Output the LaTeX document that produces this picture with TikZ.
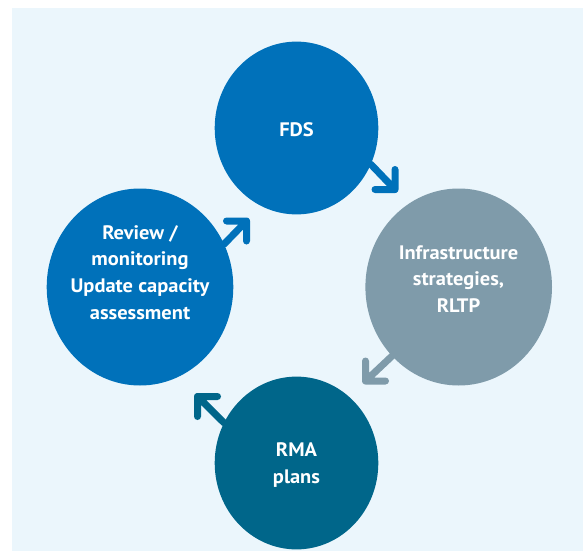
\documentclass[tikz,border=0pt]{standalone}
\usepackage{fontspec}
\setmainfont{PT Sans}[FakeStretch=1.05]
\usetikzlibrary{shapes.geometric}
\definecolor{blueA}{RGB}{0,113,186}
\definecolor{greyB}{RGB}{127,155,170}
\definecolor{tealC}{RGB}{0,102,138}
\definecolor{bgC}{RGB}{235,246,252}
\begin{document}
\begin{tikzpicture}[x=1pt,y=-1pt,
  bigc/.style={ellipse,inner sep=0pt,outer sep=0pt,minimum width=186.6pt,minimum height=197pt},
  smallc/.style={ellipse,inner sep=0pt,outer sep=0pt,minimum width=163.6pt,minimum height=172.8pt},
  lbl/.style={text=white,align=center,inner sep=0pt,font=\fontsize{19.5}{26.7}\selectfont\bfseries},
  arr/.style={line width=7pt,line cap=round,line join=round}]
\useasboundingbox (0,0) rectangle (583,551);
\fill[bgC] (12,8) rectangle (583,551);
% circles (shapes only, text placed separately)
\path (296.5,128) node[smallc] (fds) {};
\path (458.7,287) node[bigc] (infra) {};
\path (296.5,463) node[smallc] (rma) {};
\path (140,287) node[bigc] (rev) {};
% arrow tips
\coordinate (t1) at (395,189.5);
\coordinate (t2) at (365.5,381);
\coordinate (t3) at (197.5,396.5);
\coordinate (t4) at (246.5,221);
% connectors
\draw[arr,blueA] (fds.-26.6) -- (t1) -- ++(0,-20) (t1) -- ++(-20,0);
\draw[arr,greyB] (infra.-134.7) -- (t2) -- ++(0,-20) (t2) -- ++(20,0);
\draw[arr,tealC] (rma.151.3) -- (t3) -- ++(0,20) (t3) -- ++(20,0);
\draw[arr,blueA] (rev.27.4) -- (t4) -- ++(-20,0) (t4) -- ++(0,20);
% fill circles on top
\fill[blueA] (fds.center) ellipse [x radius=81.8, y radius=86.4];
\fill[greyB] (infra.center) ellipse [x radius=93.3, y radius=98.5];
\fill[tealC] (rma.center) ellipse [x radius=81.8, y radius=86.4];
\fill[blueA] (rev.center) ellipse [x radius=93.3, y radius=98.5];
% labels
\node[lbl] (fdsT) at (296.5,130) {FDS};
\node[lbl] (infraT) at (458.5,279) {Infrastructure\\strategies,\\RLTP};
\node[lbl] (rmaT) at (296.5,465) {RMA\\plans};
\node[lbl] (revT) at (140,272.4) {Review /\\monitoring\\Update capacity\\assessment};
\end{tikzpicture}
\end{document}
